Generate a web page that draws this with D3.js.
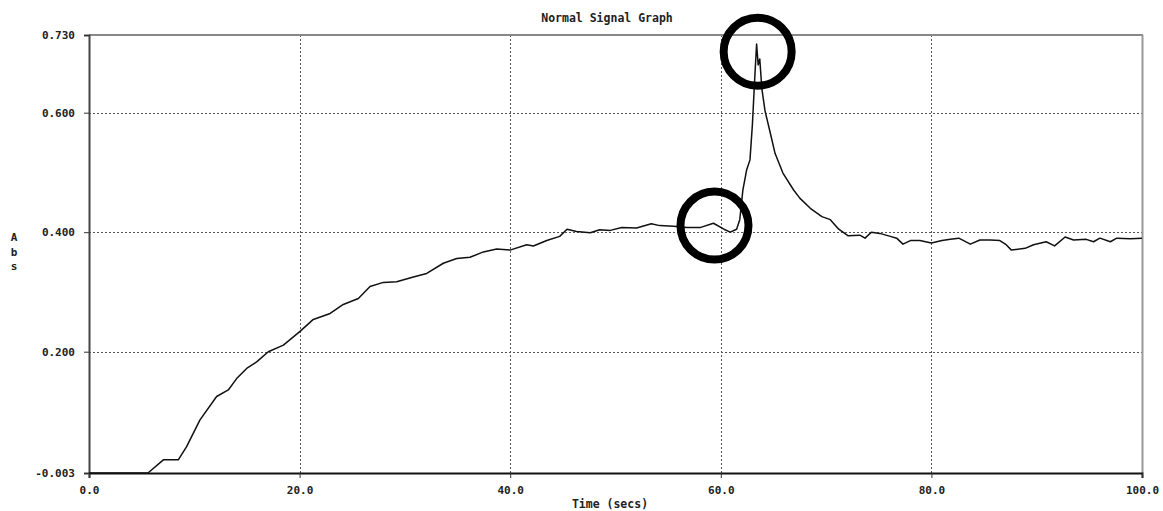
<!DOCTYPE html>
<html>
<head>
<meta charset="utf-8">
<script src="https://cdn.jsdelivr.net/npm/d3@7/dist/d3.min.js"></script>
<style>
  html, body { margin: 0; padding: 0; background: #fff; }
  svg { display: block; }
  text { font-family: "DejaVu Sans Mono", "Liberation Mono", monospace; font-weight: bold; fill: #222; }
</style>
</head>
<body>
<svg id="chart" width="1163" height="511"></svg>
<script>
// ---- data ----
const chartTitle = "Normal Signal Graph";
const xLabel = "Time (secs)";
const yLabelLetters = ["A", "b", "s"];
const xTickValues = [0, 20, 40, 60, 80, 100];
const xTickLabels = ["0.0", "20.0", "40.0", "60.0", "80.0", "100.0"];
const yTickValues = [-0.003, 0.2, 0.4, 0.6, 0.73];
const yTickLabels = ["-0.003", "0.200", "0.400", "0.600", "0.730"];

const timeSecs = [
  0, 2, 4, 5.6, 7.06, 8.48, 9.27, 10.54, 12.12, 13.23, 14.02, 14.97, 15.92, 17.03, 18.46,
  20.04, 21.3, 22.9, 24.15, 25.58, 26.69, 27.95, 29.22, 30.8, 32.07, 33.65, 34.92, 36.18,
  37.45, 38.72, 39.98, 41.57, 42.2, 43.47, 44.7, 45.4, 46.3, 47.6, 48.5, 49.5, 50.6, 52.0,
  53.4, 54.2, 55.5, 56.8, 58.1, 59.3, 60.3, 60.9, 61.5, 61.8, 62.1, 62.45, 62.77, 63.0,
  63.2, 63.4, 63.55, 63.7, 63.9, 64.2, 64.7, 65.15, 65.9, 66.9, 67.5, 68.5, 69.6, 70.4,
  71.2, 72.1, 73.2, 73.7, 74.3, 75.1, 76.1, 76.7, 77.3, 78.0, 78.9, 80.0, 81.0, 81.8,
  82.6, 83.7, 84.6, 85.6, 86.5, 87.1, 87.6, 88.9, 89.7, 90.9, 91.7, 92.7, 93.5, 94.7,
  95.4, 96.0, 97.0, 97.6, 98.9, 100
];
const absValues = [
  -0.003, -0.003, -0.003, -0.003, 0.019, 0.019, 0.041, 0.086, 0.125, 0.136, 0.155, 0.172, 0.183, 0.200, 0.211,
  0.234, 0.254, 0.264, 0.279, 0.289, 0.309, 0.316, 0.317, 0.325, 0.331, 0.348, 0.356, 0.358,
  0.367, 0.372, 0.370, 0.379, 0.377, 0.386, 0.393, 0.405, 0.401, 0.399, 0.404, 0.403, 0.408, 0.407,
  0.414, 0.411, 0.410, 0.408, 0.408, 0.415, 0.405, 0.400, 0.405, 0.421, 0.471, 0.504, 0.521, 0.580,
  0.650, 0.715, 0.680, 0.690, 0.640, 0.603, 0.566, 0.532, 0.499, 0.471, 0.457, 0.440, 0.426, 0.421,
  0.405, 0.394, 0.395, 0.390, 0.400, 0.398, 0.393, 0.390, 0.380, 0.386, 0.386, 0.382, 0.386, 0.388,
  0.390, 0.380, 0.387, 0.387, 0.386, 0.379, 0.370, 0.373, 0.379, 0.384, 0.377, 0.392, 0.387, 0.388,
  0.384, 0.390, 0.384, 0.390, 0.389, 0.390
];

// annotation circles (data coordinates: time, abs)
const circleCenters = [[63.5, 0.702], [59.4, 0.411]];

// ---- layout ----
const svg = d3.select("#chart");
const mLeft = 89, mRight = 1142, mTop = 35, mBottom = 473;

const x = d3.scaleLinear().domain([0, 100]).range([mLeft, mRight]);
const y = d3.scaleLinear().domain([-0.003, 0.73]).range([mBottom, mTop]);

svg.append("rect").attr("width", 1163).attr("height", 511).attr("fill", "#fff");

// gridlines
const g = svg.append("g");
g.selectAll(".vgrid").data(xTickValues.filter(d => d > 0 && d < 100)).enter()
  .append("line")
  .attr("x1", d => Math.round(x(d)) + 0.5).attr("x2", d => Math.round(x(d)) + 0.5)
  .attr("y1", mTop).attr("y2", mBottom)
  .attr("stroke", "#555").attr("stroke-width", 1).attr("stroke-dasharray", "2,2");
g.selectAll(".hgrid").data(yTickValues.filter(d => d > 0 && d < 0.7)).enter()
  .append("line")
  .attr("x1", mLeft).attr("x2", mRight)
  .attr("y1", d => Math.round(y(d)) + 0.5).attr("y2", d => Math.round(y(d)) + 0.5)
  .attr("stroke", "#555").attr("stroke-width", 1).attr("stroke-dasharray", "2,2");

// frame: top and right grey
svg.append("line").attr("x1", mLeft).attr("x2", mRight + 1).attr("y1", mTop).attr("y2", mTop)
  .attr("stroke", "#888").attr("stroke-width", 2);
svg.append("line").attr("x1", mRight + 0.5).attr("x2", mRight + 0.5).attr("y1", mTop).attr("y2", mBottom)
  .attr("stroke", "#999").attr("stroke-width", 2);

// axes
const xAxis = d3.axisBottom(x).tickValues(xTickValues)
  .tickFormat((d, i) => xTickLabels[i]).tickSize(5).tickPadding(8);
const xg = svg.append("g").attr("transform", `translate(0,${mBottom})`).call(xAxis);
xg.select(".domain").attr("stroke", "#111").attr("stroke-width", 2);
xg.selectAll(".tick line").attr("stroke", "#333");
xg.selectAll("text").style("font-size", "11px").style("font-family", "'DejaVu Sans Mono', monospace")
  .style("font-weight", "bold").attr("fill", "#222");

const yAxis = d3.axisLeft(y).tickValues(yTickValues)
  .tickFormat((d, i) => yTickLabels[i]).tickSize(5).tickPadding(9);
const yg = svg.append("g").attr("transform", `translate(${mLeft},0)`).call(yAxis);
yg.select(".domain").attr("stroke", "#444").attr("stroke-width", 2);
yg.selectAll(".tick line").attr("stroke", "#333");
yg.selectAll("text").style("font-size", "11px").style("font-family", "'DejaVu Sans Mono', monospace")
  .style("font-weight", "bold").attr("fill", "#222");

// signal line
const data = timeSecs.map((t, i) => [t, absValues[i]]);
const line = d3.line().x(d => x(d[0])).y(d => y(d[1]));
svg.append("path").datum(data).attr("d", line)
  .attr("fill", "none").attr("stroke", "#111").attr("stroke-width", 1.5)
  .attr("stroke-linejoin", "round");

// title and labels
svg.append("text").attr("x", 607).attr("y", 22).attr("text-anchor", "middle")
  .style("font-size", "11.5px").text(chartTitle);
svg.append("text").attr("x", 610).attr("y", 508).attr("text-anchor", "middle")
  .style("font-size", "11.5px").text(xLabel);
svg.selectAll(".ylab").data(yLabelLetters).enter().append("text")
  .attr("x", 14).attr("y", (d, i) => 241 + i * 14.5).attr("text-anchor", "middle")
  .style("font-size", "11px").text(d => d);

// annotation circles
svg.selectAll(".ring").data(circleCenters).enter().append("circle")
  .attr("cx", d => x(d[0])).attr("cy", d => y(d[1])).attr("r", 34)
  .attr("fill", "none").attr("stroke", "#000").attr("stroke-width", 8);
</script>
</body>
</html>
